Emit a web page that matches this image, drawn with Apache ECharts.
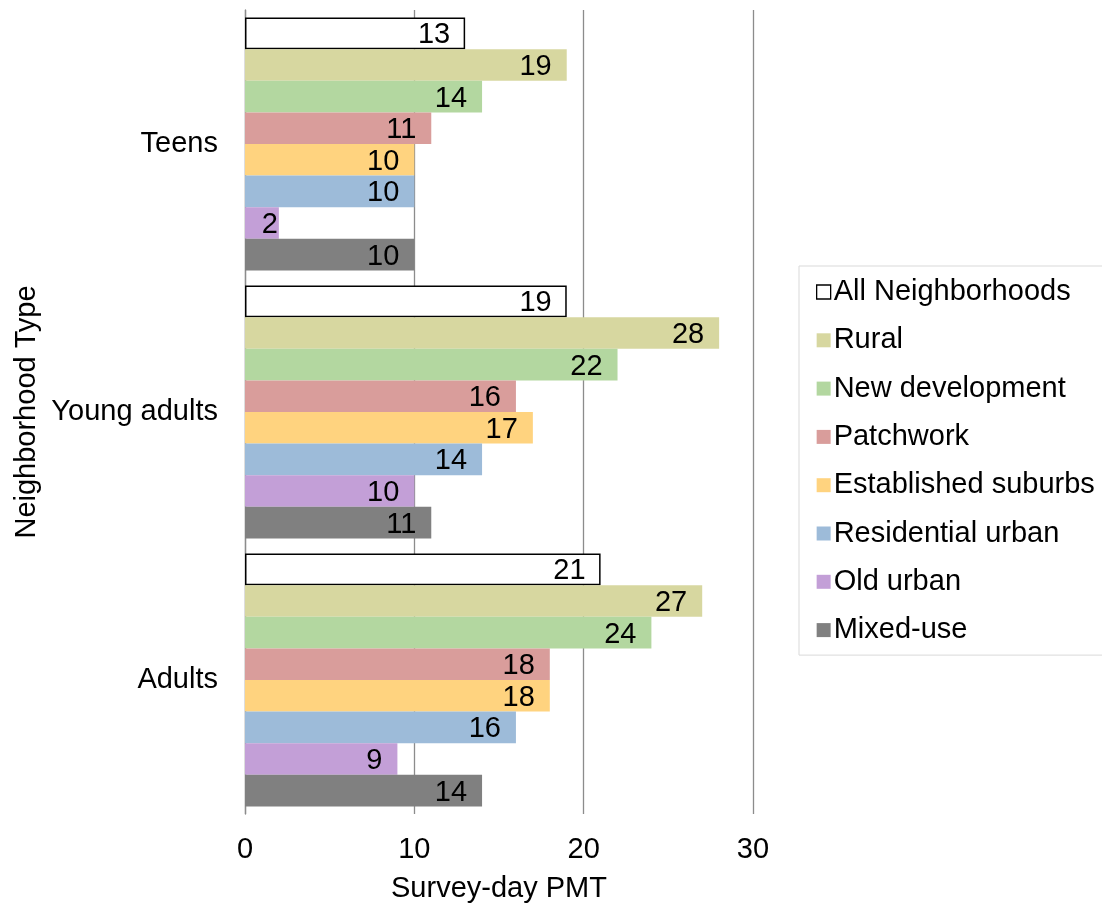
<!DOCTYPE html>
<html><head><meta charset="utf-8">
<script src="https://cdn.jsdelivr.net/npm/echarts@6/dist/echarts.min.js"></script>
<style>html,body{margin:0;padding:0;background:#fff}#c{width:1102px;height:911px}</style>
</head><body><div id="c"></div>
<script>
const categories = ['Teens', 'Young adults', 'Adults'];
const seriesNames = ['All Neighborhoods', 'Rural', 'New development', 'Patchwork', 'Established suburbs', 'Residential urban', 'Old urban', 'Mixed-use'];
const allNeighborhoods = [13, 19, 21];
const rural = [19, 28, 27];
const newDevelopment = [14, 22, 24];
const patchwork = [11, 16, 18];
const establishedSuburbs = [10, 17, 18];
const residentialUrban = [10, 14, 16];
const oldUrban = [2, 10, 9];
const mixedUse = [10, 11, 14];
const xTicks = [0, 10, 20, 30];

const values = [allNeighborhoods, rural, newDevelopment, patchwork, establishedSuburbs, residentialUrban, oldUrban, mixedUse];
const colors = ['#ffffff', '#d7d7a0', '#b3d7a0', '#d99d9b', '#ffd37f', '#9dbbd9', '#c39fd7', '#808080'];
const font = 'Liberation Sans, Arial, sans-serif';
const fs = 29;

const chart = echarts.init(document.getElementById('c'));
chart.setOption({
  animation: false,
  grid: { left: 245, right: 349, top: 10, bottom: 97 },
  legend: {
    orient: 'vertical', left: 799, top: 266,
    padding: [11, 8, 10, 17], itemGap: 18.3,
    backgroundColor: '#fff', borderColor: '#d9d9d9', borderWidth: 1,
    itemWidth: 14, itemHeight: 14, icon: 'rect',
    textStyle: { fontFamily: font, fontSize: fs, lineHeight: 30, color: '#000', padding: [0, 0, 0, -2] },
    data: seriesNames.map((n, i) => ({ name: n, itemStyle: i === 0 ? { color: '#fff', borderColor: '#000', borderWidth: 1.3 } : {} }))
  },
  xAxis: {
    type: 'value', min: 0, max: 30, interval: 10,
    name: 'Survey-day PMT', nameLocation: 'middle', nameGap: 60,
    nameTextStyle: { fontFamily: font, fontSize: fs, color: '#000' },
    axisLabel: { fontFamily: font, fontSize: fs, color: '#000', margin: 21,
      formatter: v => xTicks.includes(v) ? String(v) : '' },
    axisLine: { show: false }, axisTick: { show: false },
    splitLine: { show: true, lineStyle: { color: '#8c8c8c', width: 1.3 } }
  },
  yAxis: {
    type: 'category', data: categories, inverse: true,
    name: 'Neighborhood Type', nameLocation: 'middle', nameGap: 204, nameRotate: 90,
    nameTextStyle: { fontFamily: font, fontSize: fs, color: '#000' },
    axisLabel: { fontFamily: font, fontSize: fs, color: '#000', margin: 27 },
    axisLine: { show: true, lineStyle: { color: '#8c8c8c', width: 1.3 } },
    axisTick: { show: false }
  },
  series: seriesNames.map((n, i) => ({
    name: n, type: 'bar',
    data: values[i].map(v => v < 3 ? { value: v, label: { distance: 1 } } : v),
    barGap: '0%', barCategoryGap: '5.6%',
    itemStyle: i === 0 ? { color: '#fff', borderColor: '#000', borderWidth: 1.5 } : { color: colors[i] },
    label: { show: true, position: 'insideRight', distance: 15, offset: [0, 2], color: '#000', fontFamily: font, fontSize: fs }
  }))
});
</script></body></html>
